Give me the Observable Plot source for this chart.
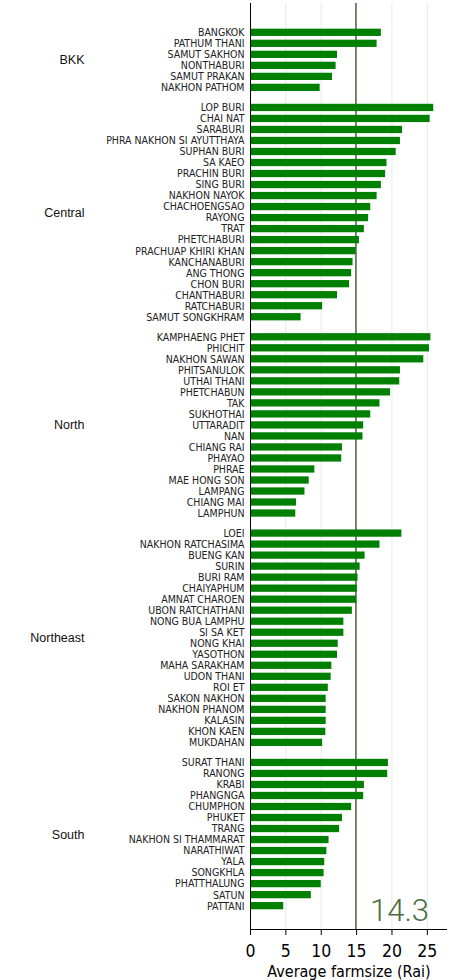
<!DOCTYPE html>
<html>
<head>
<meta charset="utf-8">
<script src="https://cdn.jsdelivr.net/npm/d3@7"></script>
<script src="https://cdn.jsdelivr.net/npm/@observablehq/plot@0.6"></script>
<style>
  html, body { margin: 0; padding: 0; background: #fff; }
  #chart svg { display: block; }
</style>
</head>
<body>
<div id="chart"></div>
<script>
// ---- data ----
const regions = ["BKK", "Central", "North", "Northeast", "South"];

const bkkNames = ["BANGKOK", "PATHUM THANI", "SAMUT SAKHON", "NONTHABURI", "SAMUT PRAKAN", "NAKHON PATHOM"];
const bkkValues = [18.5, 17.9, 12.3, 12.1, 11.6, 9.85];

const centralNames = ["LOP BURI", "CHAI NAT", "SARABURI", "PHRA NAKHON SI AYUTTHAYA", "SUPHAN BURI", "SA KAEO",
  "PRACHIN BURI", "SING BURI", "NAKHON NAYOK", "CHACHOENGSAO", "RAYONG", "TRAT", "PHETCHABURI",
  "PRACHUAP KHIRI KHAN", "KANCHANABURI", "ANG THONG", "CHON BURI", "CHANTHABURI", "RATCHABURI", "SAMUT SONGKHRAM"];
const centralValues = [25.9, 25.4, 21.5, 21.2, 20.6, 19.3, 19.1, 18.5, 17.9, 17.0, 16.7, 16.1, 15.4,
  14.9, 14.5, 14.3, 14.0, 12.3, 10.2, 7.15];

const northNames = ["KAMPHAENG PHET", "PHICHIT", "NAKHON SAWAN", "PHITSANULOK", "UTHAI THANI", "PHETCHABUN",
  "TAK", "SUKHOTHAI", "UTTARADIT", "NAN", "CHIANG RAI", "PHAYAO", "PHRAE", "MAE HONG SON", "LAMPANG",
  "CHIANG MAI", "LAMPHUN"];
const northValues = [25.5, 25.3, 24.5, 21.2, 21.1, 19.8, 18.3, 17.0, 16.0, 15.9, 13.0, 12.9, 9.1, 8.3, 7.7, 6.5, 6.4];

const northeastNames = ["LOEI", "NAKHON RATCHASIMA", "BUENG KAN", "SURIN", "BURI RAM", "CHAIYAPHUM",
  "AMNAT CHAROEN", "UBON RATCHATHANI", "NONG BUA LAMPHU", "SI SA KET", "NONG KHAI", "YASOTHON",
  "MAHA SARAKHAM", "UDON THANI", "ROI ET", "SAKON NAKHON", "NAKHON PHANOM", "KALASIN", "KHON KAEN", "MUKDAHAN"];
const northeastValues = [21.4, 18.3, 16.2, 15.5, 15.2, 15.1, 15.0, 14.4, 13.2, 13.2, 12.4, 12.3,
  11.5, 11.4, 11.0, 10.7, 10.7, 10.7, 10.65, 10.2];

const southNames = ["SURAT THANI", "RANONG", "KRABI", "PHANGNGA", "CHUMPHON", "PHUKET", "TRANG",
  "NAKHON SI THAMMARAT", "NARATHIWAT", "YALA", "SONGKHLA", "PHATTHALUNG", "SATUN", "PATTANI"];
const southValues = [19.5, 19.4, 16.1, 16.0, 14.3, 13.0, 12.6, 11.1, 10.8, 10.5, 10.4, 10.0, 8.6, 4.7];

const xTicks = [0, 5, 10, 15, 20, 25];
const refLineValue = 14.9;     // position of the reference line as drawn
const refLabel = "14.3";       // annotation text
const xLabel = "Average farmsize (Rai)";

// ---- build table ----
const groups = [
  [bkkNames, bkkValues], [centralNames, centralValues], [northNames, northValues],
  [northeastNames, northeastValues], [southNames, southValues]
];
const gap = 0.82; // extra space between region panels, in rows
const rows = [];
const regionRows = [];
let idx = 0;
groups.forEach(([names, values], g) => {
  const start = idx + g * gap;
  names.forEach((name, j) => {
    rows.push({region: regions[g], name, value: values[j], pos: idx + g * gap});
    idx++;
  });
  const end = idx - 1 + g * gap;
  regionRows.push({region: regions[g], pos: (start + end) / 2});
});
const lastPos = rows[rows.length - 1].pos;
const yDomain = [-2.66, lastPos + 2.12];

const narrow = "'Liberation Sans Narrow', 'DejaVu Sans Condensed', 'Arial Narrow', sans-serif";
const sans = "'Liberation Sans', Arial, sans-serif";

const chart = Plot.plot({
  width: 462,
  height: 980,
  marginLeft: 250,
  marginRight: 15,
  marginTop: 3,
  marginBottom: 51,
  style: {fontFamily: sans, background: "#fff"},
  x: {domain: [0, 27.85]},
  y: {domain: yDomain, reverse: true, axis: null},
  marks: [
    Plot.gridX(xTicks, {stroke: "#e3ebe8", strokeOpacity: 1, strokeWidth: 1}),
    Plot.ruleX([refLineValue], {stroke: "#56704c", strokeWidth: 1.6}),
    Plot.rectX(rows, {x1: 0, x2: "value", y1: d => d.pos - 0.33, y2: d => d.pos + 0.33, fill: "#008000"}),
    Plot.ruleX([0], {stroke: "#000", strokeWidth: 1}),
    Plot.ruleY([yDomain[1]], {stroke: "#000", strokeWidth: 1}),
    Plot.axisX(xTicks, {
      tickSize: 6, tickPadding: 9, fontSize: 17.5, fontFamily: narrow, fill: "#000", stroke: "#000",
      label: null
    }),
    Plot.text([xLabel], {
      frameAnchor: "bottom", text: d => d, lineAnchor: "bottom", dy: 47,
      fontSize: 16, fontFamily: narrow, fill: "#000"
    }),
    Plot.text(rows, {
      x: 0, y: "pos", text: "name", textAnchor: "end", dx: -6,
      fontSize: 10.5, fontFamily: narrow, fill: "#222"
    }),
    Plot.text(regionRows, {
      x: 0, y: "pos", text: "region", textAnchor: "end", dx: -166,
      fontSize: 12.5, fontFamily: sans, fill: "#111"
    }),
    Plot.text([refLabel], {
      frameAnchor: "bottom-right", text: d => d, textAnchor: "end", lineAnchor: "bottom",
      dx: -18.5, dy: -8.3, fontSize: 31, fontWeight: 300, fontFamily: "Roboto, sans-serif",
      fill: "#4a6b3a"
    })
  ]
});
document.getElementById("chart").appendChild(chart);
</script>
</body>
</html>
